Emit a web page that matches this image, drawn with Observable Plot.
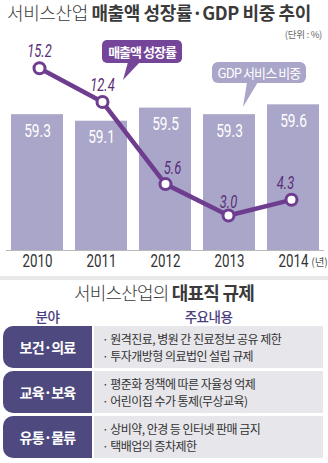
<!DOCTYPE html>
<html><head><meta charset="utf-8">
<script src="https://cdn.jsdelivr.net/npm/d3@7"></script>
<script src="https://cdn.jsdelivr.net/npm/@observablehq/plot@0.6"></script>
<style>
body{margin:0;background:#fff;font-family:"Noto Sans CJK KR","Noto Sans",sans-serif;color:#333}
#wrap{position:relative;width:328px;height:463px;overflow:hidden;background:#fff}
.abs{position:absolute}
#title{left:7px;top:0;font-size:18px;line-height:24px;letter-spacing:-0.4px;white-space:nowrap;color:#3a3a3a}
#title .lt{font-weight:300}
#title b{font-weight:700}
#unit{right:6px;top:27px;font-size:9.5px;color:#666;letter-spacing:-0.3px}
#chart{left:0;top:40px;width:328px;height:236px}
#chart svg{position:absolute;left:0;top:0}
.callout{color:#fff;text-align:center;white-space:nowrap}
#c1{left:102px;top:40px;width:80px;height:23px;line-height:23px;background:#75459a;border-radius:5px;font-size:13px;font-weight:700;letter-spacing:-1px}
#t1{left:120px;top:62px;width:20px;height:20px;background:#75459a;clip-path:polygon(8px 0,20px 0,3px 18px)}
#c2{left:212px;top:62px;width:94px;height:21px;line-height:21px;background:#aaa6c9;border-radius:6px;font-size:13px;letter-spacing:-0.9px}
#t2{left:240px;top:82px;width:20px;height:26px;background:#aaa6c9;clip-path:polygon(7px 0,18px 0,3px 25px)}
#band{left:0;top:276px;width:328px;height:4px;background:#e8e8e8}
#sub{left:0;top:280px;width:328px;text-align:center;font-size:18px;line-height:24px;letter-spacing:-0.8px;color:#3a3a3a;white-space:nowrap}
#sub .lt{font-weight:300}
.hdr{top:308px;font-size:13.5px;line-height:17px;color:#4a3d80;font-weight:500;text-align:center;letter-spacing:-0.5px}
.row{left:3px;width:320px;height:42px;display:flex}
.row .k{width:89px;background:#4e4a80;border-radius:10px 0 0 10px;color:#fff;font-weight:700;font-size:14px;letter-spacing:-0.8px;display:flex;align-items:center;justify-content:center}
.row .v{margin-left:2px;flex:1;background:#e6e6eb;font-size:12px;line-height:17px;letter-spacing:-0.55px;color:#333;padding-left:8px;display:flex;flex-direction:column;justify-content:center;white-space:nowrap}
</style>
</head><body>
<div id="wrap">
  <div id="title" class="abs"><span class="lt">서비스산업</span> <b>매출액 성장률·GDP 비중 추이</b></div>
  <div id="unit" class="abs">(단위 : %)</div>
  <div id="chart" class="abs"></div>
  <div id="c1" class="abs callout">매출액 성장률</div>
  <div id="t1" class="abs"></div>
  <div id="c2" class="abs callout">GDP 서비스 비중</div>
  <div id="t2" class="abs"></div>
  <div id="band" class="abs"></div>
  <div id="sub" class="abs"><span class="lt">서비스산업의</span> <b>대표직 규제</b></div>
  <div id="h1" class="abs hdr" style="left:3px;width:89px">분야</div>
  <div id="h2" class="abs hdr" style="left:94px;width:229px">주요내용</div>
  <div id="table"></div>
</div>
<script>
const years = ["2010", "2011", "2012", "2013", "2014"];
const gdpShare = [59.3, 59.1, 59.5, 59.3, 59.6];
const salesGrowth = [15.2, 12.4, 5.6, 3.0, 4.3];
const sectors = ["보건·의료", "교육·보육", "유통·물류"];
const regulations = [
  ["· 원격진료, 병원 간 진료정보 공유 제한", "· 투자개방형 의료법인 설립 규제"],
  ["· 평준화 정책에 따른 자율성 억제", "· 어린이집 수가 통제(무상교육)"],
  ["· 상비약, 안경 등 인터넷 판매 금지", "· 택배업의 증차제한"]
];

const bars = years.map((y, i) => ({year: y, value: gdpShare[i]}));
const line = years.map((y, i) => ({year: y, value: salesGrowth[i]}));

const num = 'Roboto,"Noto Sans",sans-serif';
const W = 328, H = 236;
const base = 55.16;
const xOpts = {domain: years, paddingInner: 0.194, paddingOuter: 0.062};
const common = {width: W, height: H, marginLeft: 6, marginRight: 4, marginTop: 0, marginBottom: 26,
  style: {background: "transparent", fontFamily: num, overflow: "visible"}};

const barPlot = Plot.plot({
  ...common,
  x: {...xOpts, axis: null},
  y: {domain: [base, 61.56], axis: null},
  marks: [
    Plot.barY(bars, {x: "year", y1: base, y2: "value", fill: "#aaa6c9"}),
    Plot.ruleY([base], {stroke: "#b8b8b8", strokeWidth: 1.2}),
    Plot.text(bars, {x: "year", y: "value", text: d => d.value.toFixed(1), dy: 16, fill: "#fff", fontSize: 19, fontFamily: num}),
    Plot.axisX({tickSize: 0, tickPadding: 3, fontSize: 18.5, fontFamily: num, color: "#333", label: null}),
    Plot.text(["2014"], {x: d => d, y: base, text: () => "(년)", dx: 26, dy: 12, fontSize: 10.5, fill: "#555", fontFamily: '"Noto Sans CJK KR",sans-serif'})
  ]
});

const purple = "#6e3d8f";
const labelOpts = {x: "year", y: "value", text: d => d.value.toFixed(1), fill: "#5a2f7a", fontSize: 18, fontStyle: "italic", fontFamily: num};
const linePlot = Plot.plot({
  ...common,
  x: {...xOpts, axis: null},
  y: {domain: [0.1, 17.5], axis: null},
  marks: [
    Plot.line(line, {x: "year", y: "value", stroke: purple, strokeWidth: 4.5}),
    Plot.dot(line, {x: "year", y: "value", r: 5.5, fill: "#fff", stroke: purple, strokeWidth: 3}),
    Plot.text(line, {...labelOpts, filter: d => d.year === "2010" || d.year === "2011", dy: -17}),
    Plot.text(line, {...labelOpts, filter: d => d.year === "2012", dy: -16, dx: 7}),
    Plot.text(line, {...labelOpts, filter: d => d.year === "2013", dy: -13}),
    Plot.text(line, {...labelOpts, filter: d => d.year === "2014", dy: -17, dx: -6})
  ]
});

// condense the numeric labels horizontally (the reference uses a narrow face)
for (const svg of [barPlot, linePlot]) {
  svg.querySelectorAll("text").forEach(t => {
    if (t.textContent === "(년)") return;
    const tr = t.getAttribute("transform") || "";
    t.setAttribute("transform", tr + " scale(0.72,1)");
  });
}

const chart = document.getElementById("chart");
chart.appendChild(barPlot);
chart.appendChild(linePlot);

const wrap = document.getElementById("wrap");
const tops = [326, 371, 416];
sectors.forEach((s, i) => {
  const row = document.createElement("div");
  row.className = "abs row";
  row.style.top = tops[i] + "px";
  const k = document.createElement("div");
  k.className = "k";
  k.textContent = s;
  const v = document.createElement("div");
  v.className = "v";
  regulations[i].forEach(t => {
    const d = document.createElement("div");
    d.textContent = t;
    v.appendChild(d);
  });
  row.appendChild(k);
  row.appendChild(v);
  wrap.appendChild(row);
});
</script>
</body></html>
